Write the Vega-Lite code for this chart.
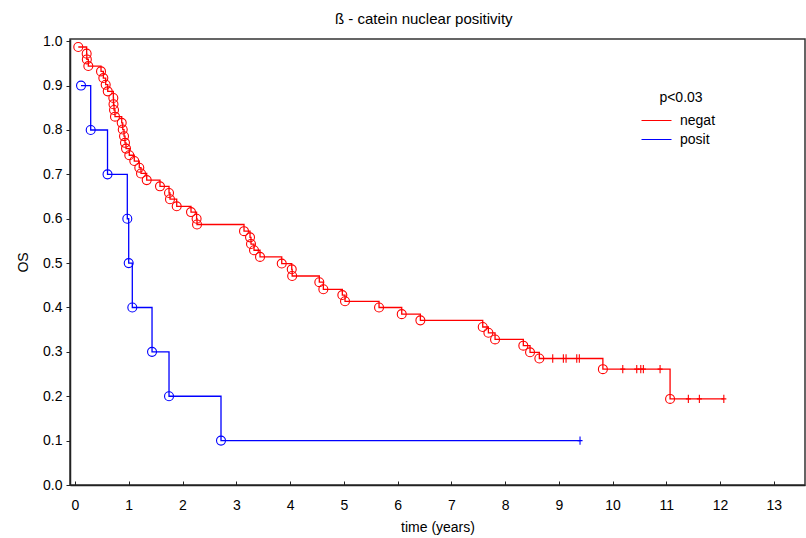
{
  "$schema": "https://vega.github.io/schema/vega-lite/v6.json",
  "width": 735,
  "height": 446,
  "autosize": {"type": "none"},
  "padding": {"left": 70, "top": 39, "right": 1, "bottom": 53},
  "background": "white",
  "config": {
    "font": "Liberation Sans",
    "view": {"stroke": "#333333", "strokeWidth": 1.5},
    "axis": {"grid": false, "labelFont": "Liberation Sans", "titleFont": "Liberation Sans", "labelFontSize": 14, "titleFontSize": 14, "titleFontWeight": "normal", "labelColor": "#000000", "titleColor": "#000000", "domainColor": "#222222", "domainWidth": 1.5, "tickColor": "#222222"}
  },
  "title": {"text": "ß - catein nuclear positivity", "anchor": "start", "frame": "group", "dx": 265, "offset": 7, "fontSize": 15, "fontWeight": "normal", "font": "Liberation Sans", "color": "#000000"},
  "data": {
    "values": [
      {"group": "negat", "t": 0.061, "S": 0.987, "type": "event"},
      {"group": "negat", "t": 0.217, "S": 0.972, "type": "event"},
      {"group": "negat", "t": 0.22, "S": 0.959, "type": "event"},
      {"group": "negat", "t": 0.248, "S": 0.944, "type": "event"},
      {"group": "negat", "t": 0.484, "S": 0.932, "type": "event"},
      {"group": "negat", "t": 0.527, "S": 0.917, "type": "event"},
      {"group": "negat", "t": 0.571, "S": 0.902, "type": "event"},
      {"group": "negat", "t": 0.609, "S": 0.887, "type": "event"},
      {"group": "negat", "t": 0.713, "S": 0.872, "type": "event"},
      {"group": "negat", "t": 0.716, "S": 0.858, "type": "event"},
      {"group": "negat", "t": 0.726, "S": 0.845, "type": "event"},
      {"group": "negat", "t": 0.744, "S": 0.83, "type": "event"},
      {"group": "negat", "t": 0.869, "S": 0.816, "type": "event"},
      {"group": "negat", "t": 0.888, "S": 0.801, "type": "event"},
      {"group": "negat", "t": 0.912, "S": 0.786, "type": "event"},
      {"group": "negat", "t": 0.93, "S": 0.771, "type": "event"},
      {"group": "negat", "t": 0.949, "S": 0.758, "type": "event"},
      {"group": "negat", "t": 1.01, "S": 0.743, "type": "event"},
      {"group": "negat", "t": 1.103, "S": 0.73, "type": "event"},
      {"group": "negat", "t": 1.196, "S": 0.715, "type": "event"},
      {"group": "negat", "t": 1.228, "S": 0.702, "type": "event"},
      {"group": "negat", "t": 1.334, "S": 0.687, "type": "event"},
      {"group": "negat", "t": 1.581, "S": 0.673, "type": "event"},
      {"group": "negat", "t": 1.749, "S": 0.658, "type": "event"},
      {"group": "negat", "t": 1.767, "S": 0.644, "type": "event"},
      {"group": "negat", "t": 1.892, "S": 0.628, "type": "event"},
      {"group": "negat", "t": 2.158, "S": 0.615, "type": "event"},
      {"group": "negat", "t": 2.262, "S": 0.6, "type": "event"},
      {"group": "negat", "t": 2.27, "S": 0.587, "type": "event"},
      {"group": "negat", "t": 3.144, "S": 0.572, "type": "event"},
      {"group": "negat", "t": 3.256, "S": 0.558, "type": "event"},
      {"group": "negat", "t": 3.274, "S": 0.543, "type": "event"},
      {"group": "negat", "t": 3.33, "S": 0.529, "type": "event"},
      {"group": "negat", "t": 3.442, "S": 0.514, "type": "event"},
      {"group": "negat", "t": 3.846, "S": 0.499, "type": "event"},
      {"group": "negat", "t": 4.032, "S": 0.486, "type": "event"},
      {"group": "negat", "t": 4.04, "S": 0.471, "type": "event"},
      {"group": "negat", "t": 4.545, "S": 0.457, "type": "event"},
      {"group": "negat", "t": 4.62, "S": 0.441, "type": "event"},
      {"group": "negat", "t": 4.973, "S": 0.428, "type": "event"},
      {"group": "negat", "t": 5.023, "S": 0.414, "type": "event"},
      {"group": "negat", "t": 5.656, "S": 0.4, "type": "event"},
      {"group": "negat", "t": 6.078, "S": 0.385, "type": "event"},
      {"group": "negat", "t": 6.425, "S": 0.371, "type": "event"},
      {"group": "negat", "t": 7.585, "S": 0.356, "type": "event"},
      {"group": "negat", "t": 7.69, "S": 0.343, "type": "event"},
      {"group": "negat", "t": 7.814, "S": 0.328, "type": "event"},
      {"group": "negat", "t": 8.34, "S": 0.314, "type": "event"},
      {"group": "negat", "t": 8.465, "S": 0.299, "type": "event"},
      {"group": "negat", "t": 8.638, "S": 0.285, "type": "event"},
      {"group": "negat", "t": 8.887, "S": 0.285, "type": "censor"},
      {"group": "negat", "t": 9.085, "S": 0.285, "type": "censor"},
      {"group": "negat", "t": 9.135, "S": 0.285, "type": "censor"},
      {"group": "negat", "t": 9.334, "S": 0.285, "type": "censor"},
      {"group": "negat", "t": 9.382, "S": 0.285, "type": "censor"},
      {"group": "negat", "t": 9.82, "S": 0.261, "type": "event"},
      {"group": "negat", "t": 10.19, "S": 0.261, "type": "censor"},
      {"group": "negat", "t": 10.45, "S": 0.261, "type": "censor"},
      {"group": "negat", "t": 10.525, "S": 0.261, "type": "censor"},
      {"group": "negat", "t": 10.573, "S": 0.261, "type": "censor"},
      {"group": "negat", "t": 10.884, "S": 0.261, "type": "censor"},
      {"group": "negat", "t": 11.07, "S": 0.194, "type": "event"},
      {"group": "negat", "t": 11.41, "S": 0.194, "type": "censor"},
      {"group": "negat", "t": 11.615, "S": 0.194, "type": "censor"},
      {"group": "negat", "t": 12.07, "S": 0.194, "type": "censor"},
      {"group": "posit", "t": 0.112, "S": 0.9, "type": "event"},
      {"group": "posit", "t": 0.292, "S": 0.8, "type": "event"},
      {"group": "posit", "t": 0.605, "S": 0.7, "type": "event"},
      {"group": "posit", "t": 0.973, "S": 0.6, "type": "event"},
      {"group": "posit", "t": 0.999, "S": 0.5, "type": "event"},
      {"group": "posit", "t": 1.066, "S": 0.4, "type": "event"},
      {"group": "posit", "t": 1.433, "S": 0.3, "type": "event"},
      {"group": "posit", "t": 1.749, "S": 0.2, "type": "event"},
      {"group": "posit", "t": 2.716, "S": 0.1, "type": "event"},
      {"group": "posit", "t": 9.395, "S": 0.1, "type": "censor"}
    ]
  },
  "encoding": {
    "x": {
      "field": "t", "type": "quantitative",
      "scale": {"domain": [-0.093, 13.58], "nice": false, "zero": false},
      "axis": {"title": "time (years)", "values": [0,1,2,3,4,5,6,7,8,9,10,11,12,13], "format": "d", "tickSize": -4, "labelPadding": 17, "titlePadding": 8, "labelFlush": false}
    },
    "y": {
      "field": "S", "type": "quantitative",
      "scale": {"domain": [0, 1.005], "nice": false, "zero": false},
      "axis": {"title": "OS", "values": [0,0.1,0.2,0.3,0.4,0.5,0.6,0.7,0.8,0.9,1.0], "format": ".1f", "tickSize": 4, "labelPadding": 4, "titlePadding": 12, "labelFlush": false}
    }
  },
  "layer": [
    {
      "mark": {"type": "line", "interpolate": "step-after", "strokeWidth": 1.3},
      "encoding": {
        "color": {
          "field": "group", "type": "nominal",
          "scale": {"domain": ["negat", "posit"], "range": ["#ff0000", "#0000ff"]},
          "legend": {
            "title": "p<0.03", "orient": "none", "legendX": 576, "legendY": 52,
            "symbolType": "M-1.5,0L1.5,0", "symbolSize": 400, "symbolStrokeWidth": 1,
            "titleFontSize": 14, "titleFontWeight": "normal", "titleColor": "#000000", "titleFont": "Liberation Sans",
            "labelFontSize": 14, "labelColor": "#000000", "labelFont": "Liberation Sans", "titleAnchor": "middle", "titlePadding": 5, "labelOffset": 13, "rowPadding": 1
          }
        }
      }
    },
    {
      "transform": [{"filter": "datum.type == 'event'"}],
      "mark": {"type": "point", "shape": "circle", "filled": false, "size": 80, "strokeWidth": 1.1, "opacity": 1},
      "encoding": {
        "stroke": {"field": "group", "type": "nominal", "scale": {"domain": ["negat", "posit"], "range": ["#ff0000", "#0000ff"]}, "legend": null}
      }
    },
    {
      "transform": [{"filter": "datum.type == 'censor'"}],
      "mark": {"type": "point", "shape": "M0,-1L0,1M-0.6,0L0.6,0", "filled": false, "size": 70, "strokeWidth": 1.1, "opacity": 1},
      "encoding": {
        "stroke": {"field": "group", "type": "nominal", "scale": {"domain": ["negat", "posit"], "range": ["#ff0000", "#0000ff"]}, "legend": null}
      }
    }
  ]
}
